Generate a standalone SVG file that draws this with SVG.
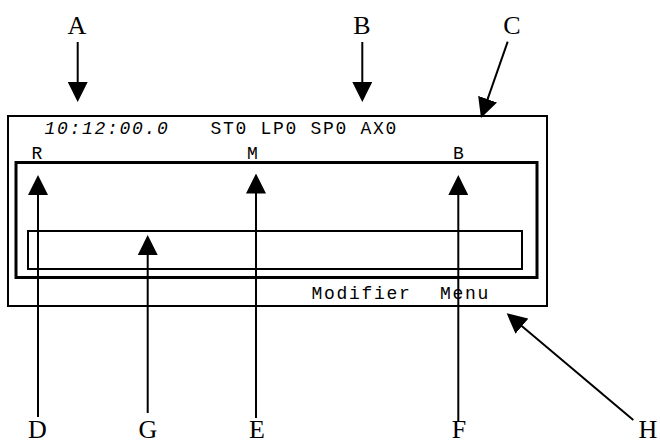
<svg xmlns="http://www.w3.org/2000/svg" width="660" height="443" viewBox="0 0 660 443">
<style>
.lbl{font-family:"Liberation Serif","Times New Roman",serif;font-size:26px;fill:#000;text-anchor:middle}
.mono{font-family:"Liberation Mono","Courier New",monospace;font-size:18px;letter-spacing:1.7px;fill:#000}
.box{fill:none;stroke:#000}
.arr{stroke:#000;stroke-width:2;fill:none;marker-end:url(#ah)}
</style>
<defs>
<marker id="ah" markerUnits="userSpaceOnUse" markerWidth="20" markerHeight="20" refX="10" refY="10" orient="auto" viewBox="0 0 20 20">
<path d="M0,0 L20,10 L0,20 Z" fill="#000"/>
</marker>
</defs>
<g id="display">
<rect class="box" x="8" y="116" width="539" height="190" stroke-width="2"/>
<text class="mono" x="44.5" y="134" font-style="italic">10:12:00.0</text>
<text class="mono" x="210.5" y="134">ST0 LP0 SP0 AX0</text>
<text class="mono" x="31.5" y="159">R</text>
<text class="mono" x="247" y="159">M</text>
<text class="mono" x="453" y="159">B</text>
<text class="mono" x="311.5" y="299">Modifier</text>
<text class="mono" x="440" y="299">Menu</text>
</g>
<g id="graph-area">
<rect class="box" x="16" y="162.5" width="521" height="115" stroke-width="3"/>
</g>
<g id="entry-field">
<rect class="box" x="28" y="231" width="494" height="38" stroke-width="2"/>
</g>
<g id="labels">
<text class="lbl" x="77" y="34">A</text>
<text class="lbl" x="362" y="34">B</text>
<text class="lbl" x="512" y="34">C</text>
<text class="lbl" x="37.5" y="438">D</text>
<text class="lbl" x="148" y="438">G</text>
<text class="lbl" x="257" y="438">E</text>
<text class="lbl" x="459" y="438">F</text>
<text class="lbl" x="648" y="438">H</text>
</g>
<g id="connectors">
<line class="arr" x1="77.7" y1="42" x2="77.7" y2="92"/>
<line class="arr" x1="362.3" y1="42" x2="362.3" y2="92"/>
<line class="arr" x1="507.7" y1="41.7" x2="484.3" y2="108.6"/>
<line class="arr" x1="38" y1="417" x2="38" y2="185"/>
<line class="arr" x1="147.7" y1="413" x2="147.7" y2="245"/>
<line class="arr" x1="256" y1="418" x2="256" y2="183.5"/>
<line class="arr" x1="458.3" y1="421" x2="458.3" y2="185"/>
<line class="arr" x1="633.3" y1="420" x2="514.3" y2="319.7"/>
</g>
</svg>
